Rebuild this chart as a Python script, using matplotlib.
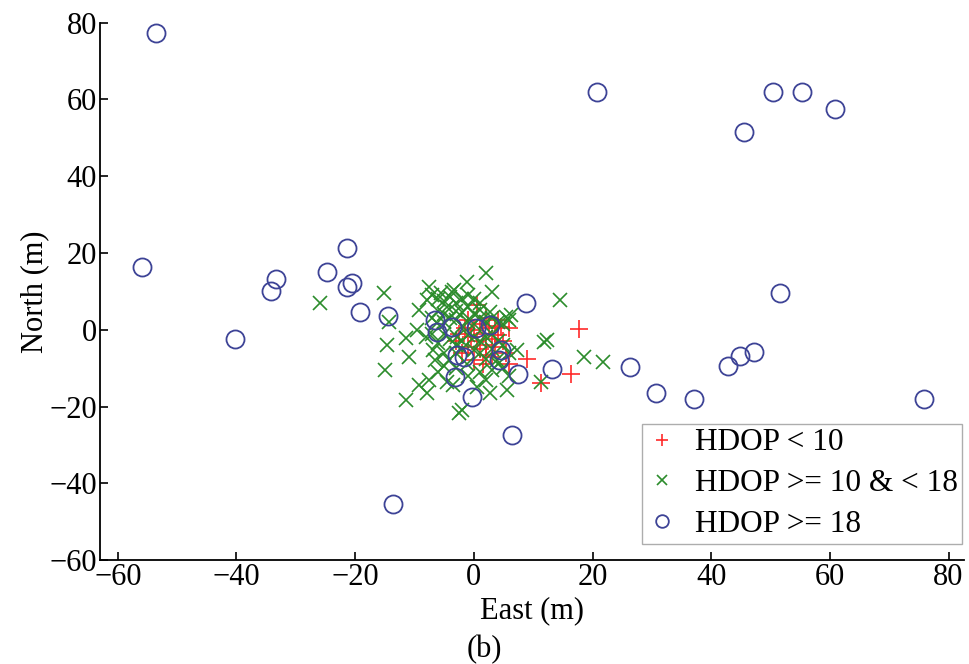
import numpy as np
import matplotlib as mpl
mpl.use('Agg')
import matplotlib.pyplot as plt

plt.rcParams['font.family'] = ['Liberation Serif', 'DejaVu Serif']

# HDOP < 10
low_east = [17.7, 16.3, 11.4, 8.9, 0.6, 5.9, -2.5, -1.5, -0.5, 0.0, 0.5, 1.0, 1.5, 2.0,
            2.5, 3.0, 3.5, 4.0, 4.5, 5.0, 1.0, 2.0, 3.0, -1.0, -2.0, 0.0, 4.0, 2.0,
            -1.0, 5.5, 6.0, -3.0, 1.5, 3.5]
low_north = [0.3, -11.6, -13.9, -7.5, 6.4, 0.4, -1.0, 0.5, -2.0, 0.0, -3.0, 1.5, -1.0, -4.0,
             0.5, -2.5, 1.0, -1.5, 0.8, -3.0, -5.0, -6.5, -7.0, -4.5, -6.0, -8.0, 2.5, 3.0,
             2.5, -6.0, -9.0, -3.0, -9.0, -4.5]

# HDOP >= 10 & < 18
mid_east = [-25.9, -15.2, -14.3, -14.7, -14.9, -11.5, -11.0, -11.5, -9.3, -7.9, -7.6, -9.3,
            -7.6, -7.9, -5.6, -3.6, -9.6, -6.8, -6.5, -4.5, -2.5, -6.2, -4.5, -2.8,
            2.0, 3.1, -1.1, -3.4, 14.6, 11.8, 12.4, 18.6, 21.7, 11.3, 5.6, 2.8, -2.0,
            6.2, 5.4, 2.8, 1.1, 7.3, -4.2, -1.1, 3.9, 3.1, 0.0,
            -7.0, -6.0, -5.0, -4.0, -3.0, -2.0, -1.0, 0.0, 1.0, -6.0, -5.0, -3.0, -2.0,
            -1.0, 0.0, 1.0, 2.0, -7.0, -5.0, -4.0, -3.0, -2.0, -1.0, 0.0, 3.0, 4.0, 5.0,
            6.0, -8.0, -7.0, -5.0, -4.0, -3.0, -2.0, -1.0, 0.0, 1.0, 2.0, 3.0, 4.0, 5.0,
            6.0, -6.0, -5.0, -3.0, -2.0, 1.0, 2.0, 3.0, 4.0, 5.0, -5.0, -3.0, -1.0, 1.0,
            2.0, 6.0, -6.0, -3.5, 0.5]
mid_north = [6.9, 9.6, 2.1, -4.0, -10.5, -2.2, -7.0, -18.3, -14.4, -16.6, -13.1, 5.1,
             11.2, 7.7, 9.5, 9.9, -0.1, -5.3, -7.9, -13.5, -21.8, 1.7, 6.0, -1.8,
             14.7, 9.9, 12.5, 10.3, 7.7, -3.1, -2.6, -7.0, -8.3, -13.5, -15.7, -16.6, -20.9,
             3.8, 3.4, 4.7, 5.1, -5.3, -7.9, -8.8, -7.9, -10.5, -5.3,
             9.0, 8.0, 7.5, 8.5, 7.0, 8.0, 9.0, 8.0, 7.0, 5.0, 4.0, 5.0, 4.5,
             6.0, 4.0, 3.0, 2.0, 3.0, 2.0, 3.0, 2.5, 1.0, 2.0, 1.5, 3.0, 2.0, 1.5,
             2.5, -2.0, -1.0, -1.0, -2.5, -4.0, -3.0, -1.5, -2.0, -3.0, -2.0, -1.0, -3.0, -4.0,
             -6.0, -3.5, -6.0, -6.0, -5.0, -6.0, -7.5, -5.0, -9.0, -10.0, -9.5, -10.0, -12.0, -11.0,
             -13.0, -12.0, -11.0, -14.5, -15.0]

# HDOP >= 18
high_east = [-53.6, 20.8, 50.4, 55.3, 60.9, 45.6, -56.0, -40.3, -34.2, -33.3, -24.7, -21.4,
             -21.4, -20.5, -19.2, -14.5, -6.5, -6.2, -3.6, -2.8, -1.7, -3.1, -0.3, 4.5, 4.2,
             7.4, 8.8, 0.3, 2.8, 13.2, 51.6, 26.3, 30.7, 37.1, 42.8, 44.9, 47.2, 75.8, 6.5,
             -13.7]
high_north = [77.2, 61.9, 62.0, 62.0, 57.5, 51.6, 16.4, -2.3, 10.2, 13.1, 15.1, 21.2,
              11.2, 12.1, 4.7, 3.6, 2.5, -0.5, 0.8, -6.6, -7.0, -12.2, -17.5, -5.3, -7.9,
              -11.6, 7.0, 0.4, 1.2, -10.3, 9.7, -9.7, -16.6, -18.1, -9.4, -6.9, -5.7, -18.1, -27.5,
              -45.4]

fig = plt.figure(figsize=(9.69, 6.64), dpi=100)
ax = fig.add_axes([0.1032, 0.1566, 0.8916, 0.8092])

ax.plot(low_east, low_north, '+', color='#ff2a2a', ms=13, mew=1.2, ls='none',
        label='HDOP < 10')
ax.plot(mid_east, mid_north, 'x', color='#2b8c2b', ms=10, mew=1.2, ls='none',
        label='HDOP >= 10 & < 18')
ax.plot(high_east, high_north, 'o', color='#3d4396', mfc='none', ms=13, mew=1.3,
        ls='none', label='HDOP >= 18')

ax.set_xlim(-63, 82.6)
ax.set_ylim(-60, 80)
ax.set_xticks(np.arange(-60, 81, 20))
ax.set_yticks(np.arange(-60, 81, 20))
ax.spines['top'].set_visible(False)
ax.spines['right'].set_visible(False)
for s in ['left', 'bottom']:
    ax.spines[s].set_linewidth(1.3)
ax.tick_params(direction='in', length=6, width=1.2, labelsize=22, pad=2)

ax.set_xlabel('East (m)', fontsize=22, labelpad=3)
ax.set_ylabel('North (m)', fontsize=22, labelpad=0)
# sub-figure caption, centred on the whole figure
fig.text(0.5, 0.022, '(b)', fontsize=22, ha='center', va='center')

leg = ax.legend(loc='lower right', bbox_to_anchor=(0.998, 0.03), fontsize=22.5,
                frameon=True, fancybox=False, handlelength=1.0, handletextpad=0.55,
                borderpad=0.15, labelspacing=0.38, borderaxespad=0, markerscale=0.7)
leg.get_frame().set_edgecolor('#999999')
leg.get_frame().set_linewidth(1.0)

plt.savefig('out.png', dpi=100)
plt.close()
